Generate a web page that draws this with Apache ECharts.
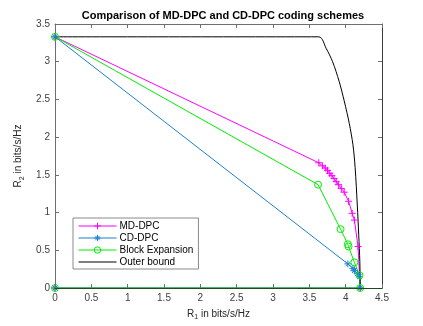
<!DOCTYPE html>
<html>
<head>
<meta charset="utf-8">
<script src="https://cdn.jsdelivr.net/npm/echarts@6/dist/echarts.min.js"></script>
<style>
  html, body { margin: 0; padding: 0; background: #fff; }
  #chart { width: 423px; height: 326px; }
</style>
</head>
<body>
<div id="chart"></div>
<script>
// values (R1, R2 in bits/s/Hz)
var seriesNames = ['MD-DPC', 'CD-DPC', 'Block Expansion', 'Outer bound']

var mdR1 = [0, 3.63, 3.68, 3.72, 3.75, 3.78, 3.81, 3.84, 3.87, 3.90, 3.94, 3.98, 4.04, 4.09, 4.12, 4.17, 4.20, 0]
var mdR2 = [3.33, 1.66, 1.62, 1.59, 1.56, 1.52, 1.49, 1.45, 1.41, 1.37, 1.32, 1.27, 1.15, 0.99, 0.90, 0.55, 0, 0]

var cdR1 = [0, 4.03, 4.10, 4.12, 4.16, 4.19, 4.20, 0]
var cdR2 = [3.33, 0.32, 0.26, 0.23, 0.19, 0.15, 0, 0]

var beR1 = [0, 3.62, 3.93, 4.03, 4.04, 4.12, 4.19, 4.20, 0]
var beR2 = [3.33, 1.37, 0.78, 0.58, 0.55, 0.34, 0.17, 0, 0]

var obR1 = [0, 3.63, 3.73, 3.82, 3.91, 3.98, 4.05, 4.10, 4.13, 4.16, 4.18, 4.195, 4.20]
var obR2 = [3.33, 3.33, 3.18, 3.00, 2.74, 2.48, 2.18, 1.90, 1.60, 1.10, 0.70, 0.35, 0]

var xTicks = [0, 4.5, 0.5]
var yTicks = [0, 3.5, 0.5]

function pairs(xs, ys) {
  return xs.map(function (x, i) { return [x, ys[i]] })
}

var plusPath = 'path://M0,5L10,5M5,0L5,10'
var starPath = 'path://M0,5L10,5M5,0L5,10M1.5,1.5L8.5,8.5M8.5,1.5L1.5,8.5'
var font = 'Liberation Sans, Arial, sans-serif'

var chart = echarts.init(document.getElementById('chart'))
var frameColor = '#6e6e6e'
var labelColor = '#404040'

function xAxisOf(pos, extra) {
  return Object.assign({
    type: 'value',
    position: pos,
    min: xTicks[0],
    max: xTicks[1],
    interval: xTicks[2],
    axisLine: { show: true, onZero: false, lineStyle: { color: frameColor, width: 1 } },
    axisTick: { show: true, inside: true, length: 4, lineStyle: { color: frameColor } },
    axisLabel: { show: false },
    splitLine: { show: false }
  }, extra)
}
function yAxisOf(pos, extra) {
  return Object.assign({
    type: 'value',
    position: pos,
    min: yTicks[0],
    max: yTicks[1],
    interval: yTicks[2],
    axisLine: { show: true, onZero: false, lineStyle: { color: frameColor, width: 1 } },
    axisTick: { show: true, inside: true, length: 4, lineStyle: { color: frameColor } },
    axisLabel: { show: false },
    splitLine: { show: false }
  }, extra)
}

var nameRich = {
  sub: { fontSize: 7, padding: [7, 0, 0, 0], color: '#262626' }
}

chart.setOption({
  animation: false,
  title: {
    text: 'Comparison of MD-DPC and CD-DPC coding schemes',
    left: 218,
    top: 5,
    textAlign: 'center',
    textStyle: { fontFamily: font, fontSize: 11, fontWeight: 'bold', color: '#000' }
  },
  grid: { left: 55, right: 41, top: 24, bottom: 35 },
  legend: {
    orient: 'vertical',
    left: 73,
    top: 218,
    padding: [3, 5, 2, 5],
    itemGap: 2,
    itemWidth: 38,
    itemHeight: 8,
    borderColor: '#8a8a8a',
    borderWidth: 1,
    backgroundColor: '#fff',
    lineStyle: { width: 1 },
    itemStyle: { borderWidth: 1 },
    data: [
      seriesNames[0],
      seriesNames[1],
      seriesNames[2],
      { name: seriesNames[3], itemStyle: { color: 'rgba(0,0,0,0)', borderColor: 'rgba(0,0,0,0)' } }
    ],
    textStyle: { fontFamily: font, fontSize: 10, color: '#000', padding: [0, 0, 0, -2] }
  },
  xAxis: [
    xAxisOf('bottom', {
      z: 5,
      axisLine: { show: true, onZero: false, lineStyle: { color: '#1e4a1e', width: 1 } },
      axisLabel: { show: true, fontFamily: font, fontSize: 10, color: labelColor, margin: 5 },
      name: 'R{sub|1} in bits/s/Hz',
      nameLocation: 'middle',
      nameGap: 19,
      nameTextStyle: { fontFamily: font, fontSize: 10, color: '#262626', rich: nameRich }
    }),
    xAxisOf('top', {})
  ],
  yAxis: [
    yAxisOf('left', {
      axisLabel: { show: true, fontFamily: font, fontSize: 10, color: labelColor, margin: 5 },
      name: 'R{sub|2} in bits/s/Hz',
      nameLocation: 'middle',
      nameGap: 19,
      nameTextStyle: { fontFamily: font, fontSize: 10, color: '#262626', rich: nameRich }
    }),
    yAxisOf('right', { axisLine: { show: true, onZero: false, lineStyle: { color: '#3a3a3a', width: 1 } } })
  ],
  series: [
    {
      name: seriesNames[0],
      type: 'line',
      data: pairs(mdR1, mdR2),
      symbol: plusPath,
      symbolSize: 7,
      showAllSymbol: true,
      lineStyle: { color: '#ff00ff', width: 1 },
      itemStyle: { color: '#ff00ff', borderColor: '#ff00ff', borderWidth: 1 }
    },
    {
      name: seriesNames[1],
      type: 'line',
      data: pairs(cdR1, cdR2),
      symbol: starPath,
      symbolSize: 7,
      showAllSymbol: true,
      lineStyle: { color: '#1f7fcf', width: 1 },
      itemStyle: { color: '#1f7fcf', borderColor: '#1f7fcf', borderWidth: 1 }
    },
    {
      name: seriesNames[2],
      type: 'line',
      data: pairs(beR1, beR2),
      symbol: 'path://M10,5A5,5,0,1,1,0,5A5,5,0,1,1,10,5Z',
      symbolSize: 7,
      showAllSymbol: true,
      lineStyle: { color: '#00ee00', width: 1 },
      itemStyle: { color: 'rgba(255,255,255,0)', borderColor: '#00ee00', borderWidth: 1 }
    },
    {
      name: seriesNames[3],
      type: 'line',
      data: pairs(obR1, obR2),
      symbol: 'none',
      smooth: 0.3,
      lineStyle: { color: '#000', width: 1 },
      itemStyle: { color: '#000' }
    }
  ]
})
</script>
</body>
</html>
